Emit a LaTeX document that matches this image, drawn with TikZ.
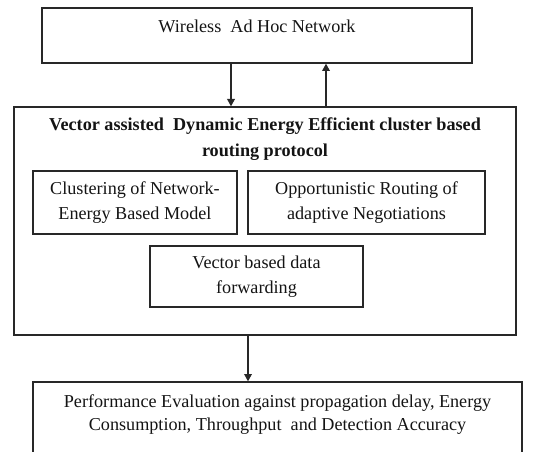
\documentclass[tikz,border=0pt]{standalone}
\usepackage{fontspec}
\setmainfont{Liberation Serif}
\usepackage{tikz}
\usetikzlibrary{arrows.meta, positioning, calc}
\definecolor{boxline}{RGB}{40, 40, 40}
\definecolor{textdark}{RGB}{20, 20, 20}
\newdimen\px
\px=0.6pt

\tikzset{
    box/.style={draw=boxline, line width=0.8pt, rectangle, align=center, inner sep=0pt,
        font=\fontsize{10.9}{15}\selectfont, text=textdark},
    toptext/.style={anchor=north, align=center, inner sep=0pt,
        font=\fontsize{10.9}{15.6}\selectfont, text=textdark},
    arr/.style={draw=boxline, line width=0.8pt, -{Triangle[length=4.4pt, width=4.6pt]}}
}

\begin{document}
\begin{tikzpicture}[x=0.6pt, y=-0.6pt]
    \path[use as bounding box, clip] (0,0) rectangle (553,451);

    % Outer blocks
    \node[box, minimum width=430\px, minimum height=55\px,
        label={[toptext, yshift=-12\px]north:Wireless~ Ad Hoc Network}] (net) at (257,35.5) {};
    \node[box, minimum width=502\px, minimum height=228\px,
        label={[toptext, yshift=-11\px, font=\fontsize{10.9}{15.6}\selectfont\bfseries]north:Vector assisted~ Dynamic Energy Efficient cluster based\\routing protocol}] (proto) at (265,221) {};
    \node[box, minimum width=489\px, minimum height=90\px,
        label={[toptext, yshift=-13\px, font=\fontsize{10.9}{13.8}\selectfont]north:Performance Evaluation against propagation delay, Energy\\Consumption, Throughput~ and Detection Accuracy}] (eval) at (277.5,427) {};

    % Inner blocks
    \node[box, minimum width=204\px, minimum height=63\px] (clust) at (135,202.5) {Clustering of Network-\\Energy Based Model};
    \node[box, minimum width=237\px, minimum height=63\px] (oppr) at (366.5,202.5) {Opportunistic Routing of\\adaptive Negotiations};
    \node[box, minimum width=213\px, minimum height=61\px] (vfwd) at (256.5,276.5) {Vector based data\\forwarding};

    % Connectors
    \draw[arr] ([xshift=-26\px]net.south) -- ([xshift=-26\px]net.south |- proto.north);
    \draw[arr] ([xshift=69\px]net.south |- proto.north) -- ([xshift=69\px]net.south);
    \draw[arr] ([xshift=-17\px]proto.south) -- ([xshift=-17\px]proto.south |- eval.north);
\end{tikzpicture}
\end{document}
